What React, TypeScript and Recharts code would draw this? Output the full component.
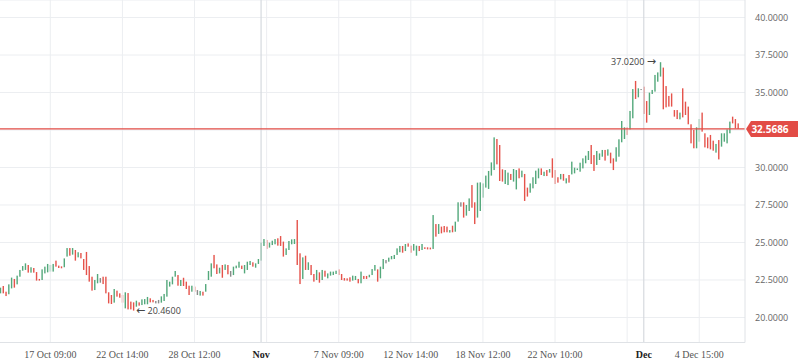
import React from 'react';
import {
  ComposedChart,
  Bar,
  XAxis,
  YAxis,
  CartesianGrid,
  ReferenceLine,
  ReferenceDot,
} from 'recharts';

// ---- data ----
const highs = [
  21.99, 22.10, 21.72, 22.21, 22.66, 22.57, 22.79, 23.17, 23.43, 23.61,
  23.50, 23.35, 23.30, 23.03, 22.57, 23.21, 23.39, 23.57, 23.50, 23.57,
  23.79, 23.46, 23.41, 23.94, 24.63, 24.63, 24.63, 24.50, 24.35, 24.30,
  23.90, 24.37, 23.43, 22.72, 22.50, 22.90, 22.63, 22.72, 22.72, 21.68,
  21.50, 21.90, 21.79, 21.61, 21.50,
  21.68, 21.63, 21.06, 21.01, 21.12, 21.01, 21.21, 21.23, 21.37, 21.28,
  21.17, 21.10, 21.17, 21.41, 21.57, 22.50, 22.39, 22.72, 23.10, 22.83,
  22.50, 22.65, 22.39, 22.12, 22.12, 22.06, 21.83, 21.77, 21.72, 22.23,
  23.10, 23.61, 24.17, 23.54, 23.32, 23.50, 23.54, 23.50, 23.10, 23.39,
  23.46, 23.72, 23.46, 23.50, 23.72, 23.77,
  23.68, 23.61, 23.90, 24.99, 25.23, 25.17, 24.99, 25.12, 25.23, 25.28,
  25.43, 25.06, 24.61, 25.10, 25.21, 25.23, 26.50, 24.28, 24.01, 24.12,
  23.68, 23.50, 22.90, 23.17, 23.01, 23.17, 23.12, 22.94, 23.06, 23.06,
  23.12, 23.21, 22.90, 22.63, 22.61, 22.68, 22.79, 22.77, 22.57, 23.06,
  22.77, 22.77, 22.85, 23.23, 23.50,
  23.21, 23.39, 23.90, 23.83, 23.99, 24.10, 24.17, 24.61, 24.77, 24.77,
  24.90, 24.94, 24.79, 24.90, 24.79, 24.77, 24.90, 24.68, 24.68, 24.66,
  26.83, 26.23, 26.23, 26.06, 26.10, 26.06, 25.83, 26.12, 26.39, 27.68,
  27.68, 27.68, 27.50, 27.94, 28.83, 27.68, 28.99, 29.01, 28.94, 29.46,
  29.77, 30.34, 32.01, 31.90, 31.50,
  29.88, 29.83, 29.66, 29.57, 29.90, 29.83, 29.94, 29.79, 29.57, 28.66,
  28.94, 29.35, 29.79, 29.94, 29.94, 29.72, 29.83, 29.90, 30.61, 29.83,
  29.35, 29.57, 29.57, 29.28, 29.50, 30.39, 29.99, 29.94, 30.32, 30.61,
  30.79, 31.10, 31.50, 30.83, 31.10, 30.94, 31.17, 31.17, 31.21, 30.99,
  30.61, 31.35, 31.88, 33.10, 32.68,
  32.68, 33.77, 35.23, 35.77, 35.28, 35.23, 35.39, 34.43, 34.99, 35.17,
  36.17, 36.34, 37.02, 36.66, 35.43, 34.77, 34.94, 33.83, 33.83, 33.66,
  35.28, 34.39, 34.06, 32.88, 32.50, 32.68, 33.23, 33.66, 32.28, 32.01,
  32.17, 31.79, 31.57, 31.83, 32.28, 32.28, 32.54, 33.06, 33.39, 33.23,
  32.94,
];

const lows = [
  21.61, 21.61, 21.43, 21.55, 21.94, 21.99, 22.21, 22.72, 23.12, 23.17,
  22.99, 22.99, 22.99, 22.46, 22.46, 22.50, 22.94, 23.01, 23.06, 23.06,
  23.39, 23.30, 23.28, 23.35, 24.06, 24.12, 24.19, 23.79, 24.01, 23.94,
  23.17, 22.83, 22.39, 21.79, 21.83, 22.28, 22.32, 22.23, 21.61, 20.94,
  20.90, 20.99, 21.39, 21.32, 20.99,
  20.61, 20.54, 20.54, 20.46, 20.72, 20.79, 20.83, 20.88, 20.88, 21.01,
  21.01, 20.94, 20.94, 20.99, 21.10, 21.39, 22.06, 22.21, 22.72, 22.12,
  22.10, 22.10, 21.90, 21.50, 21.72, 21.72, 21.50, 21.46, 21.46, 21.72,
  22.50, 22.72, 23.28, 22.90, 22.94, 22.65, 23.17, 22.88, 22.72, 22.83,
  23.28, 23.32, 23.23, 22.94, 23.17, 23.50,
  23.39, 23.32, 23.57, 23.79, 24.77, 24.57, 24.66, 24.83, 24.88, 24.79,
  24.77, 24.06, 24.17, 24.50, 24.88, 24.90, 23.50, 22.23, 22.57, 23.17,
  23.17, 22.83, 22.39, 22.50, 22.32, 22.50, 22.72, 22.61, 22.79, 22.83,
  22.90, 22.83, 22.50, 22.46, 22.46, 22.39, 22.46, 22.50, 22.28, 22.28,
  22.57, 22.57, 22.68, 22.83, 23.12,
  22.39, 22.61, 23.23, 23.61, 23.72, 23.88, 23.90, 24.17, 24.35, 24.32,
  24.43, 24.72, 24.32, 24.46, 24.12, 24.43, 24.50, 24.57, 24.54, 24.54,
  24.57, 25.39, 25.57, 25.61, 25.68, 25.68, 25.66, 25.68, 25.72, 26.39,
  27.39, 26.66, 26.79, 27.10, 27.32, 26.23, 26.66, 27.10, 27.99, 28.66,
  28.57, 29.46, 29.83, 30.21, 29.10,
  29.06, 28.90, 28.83, 29.17, 29.06, 28.54, 29.28, 29.35, 27.77, 28.06,
  28.32, 28.61, 28.90, 29.28, 29.50, 29.43, 29.43, 29.66, 29.32, 28.90,
  28.99, 29.21, 29.12, 28.94, 28.99, 29.54, 29.61, 29.83, 29.72, 29.94,
  30.28, 30.50, 30.23, 29.77, 30.17, 30.50, 30.72, 30.46, 30.79, 30.28,
  29.83, 30.39, 30.72, 31.68, 31.90,
  32.17, 32.54, 33.28, 34.57, 34.68, 35.17, 33.57, 32.99, 33.50, 34.90,
  35.06, 35.72, 36.06, 33.88, 34.01, 34.06, 34.06, 33.39, 33.23, 33.21,
  33.34, 33.50, 32.88, 31.61, 31.28, 31.28, 31.72, 32.39, 31.34, 31.28,
  31.21, 31.12, 30.99, 30.54, 31.39, 31.72, 31.61, 32.28, 32.94, 32.61,
  32.57,
];

// u = up candle, d = down candle, n = unchanged
const directions = (
  'udduuduuuu' + 'duddduuuuu' + 'ddduududud' + 'dddduunddd' + 'duddd' +
  'uddduduuud' + 'dnnuuuuuud' + 'udddudnudu' + 'uuddududnu' + 'uuduuu' +
  'duuuuduuud' + 'dduuuuddud' + 'uddududuuu' + 'uddddduudu' + 'dduuu' +
  'duunuuuuud' + 'udduududdd' + 'ududdduduu' + 'nduudduuuu' + 'uuudd' +
  'duuduududd' + 'uuuudududd' + 'dududuuuuu' + 'uudduuudud' + 'duuuu' +
  'duudundduu' + 'uuuddddddu' + 'ddddduuddd' + 'dduduuuudd' + 'd'
).split('');

const trailingEmptySlots = 2;

const xTickIndex = [18, 44, 70, 94, 122, 148, 174, 200, 232, 252];
const xTickLabels = [
  '17 Oct 09:00',
  '22 Oct 14:00',
  '28 Oct 12:00',
  'Nov',
  '7 Nov 09:00',
  '12 Nov 14:00',
  '18 Nov 12:00',
  '22 Nov 10:00',
  'Dec',
  '4 Dec 15:00',
];
const monthLabels = ['Nov', 'Dec'];
const gridIndex = [18, 44, 70, 96, 122, 148, 174, 200, 226, 252];
const monthLineIndex = [94, 232];

const yTicks = [20, 22.5, 25, 27.5, 30, 32.5, 35, 37.5, 40];
const yDomain: [number, number] = [18.3333, 41.1667];

const lastPrice = 32.5686;
const highMark = { index: 238, value: 37.02 };
const lowMark = { index: 48, value: 20.46 };

// ---- styles ----
const UP = '#53a87b';
const DOWN = '#e5534b';
const FLAT = '#8a8a8a';
const GRID = '#eceef1';
const MONTH_GRID = '#d6dadf';
const AXIS = '#dfe2e6';
const PRICE = '#e24c46';

const data = Array.from({ length: highs.length + trailingEmptySlots }, (_, i) => ({
  i,
  range: i < highs.length ? [lows[i], highs[i]] : null,
  dir: directions[i] ?? 'n',
}));

const Candle = (props: any) => {
  const { x, y, width, height, payload } = props;
  if (!payload || !payload.range || x == null || y == null) return <g />;
  const top = Math.min(y, y + height);
  const h = Math.max(Math.abs(height), 1);
  const cx = x + width / 2;
  const color = payload.dir === 'u' ? UP : payload.dir === 'd' ? DOWN : FLAT;
  return <rect x={cx - 0.7} y={top} width={1.4} height={h} fill={color} />;
};

const XTick = (props: any) => {
  const { x, y, payload } = props;
  const k = xTickIndex.indexOf(Number(payload.value));
  const label = k >= 0 ? xTickLabels[k] : '';
  const isMonth = monthLabels.includes(label);
  return (
    <text
      x={x}
      y={y}
      dy={7.5}
      textAnchor="middle"
      fontFamily="'Liberation Serif', 'Times New Roman', serif"
      fontSize={10}
      fontWeight={isMonth ? 'bold' : 'normal'}
      fill={isMonth ? '#222' : '#555'}
    >
      {label}
    </text>
  );
};

// y tick labels; the one hidden under the last-price tag is not drawn
const YTick = (props: any) => {
  const { x, y, payload } = props;
  const v = Number(payload.value);
  if (Math.abs(v - lastPrice) < 0.6) return <g />;
  return (
    <text
      x={x}
      y={y}
      dy="0.355em"
      textAnchor="start"
      fontFamily="'Open Sans', sans-serif"
      fontSize={9}
      fill="#666"
    >
      {v.toFixed(4)}
    </text>
  );
};

const PriceTag = (props: any) => {
  const vb = props.viewBox || {};
  const right = (vb.x ?? 0) + (vb.width ?? 0);
  const cy = vb.y ?? 0;
  return (
    <g>
      <path
        d={`M${right + 1},${cy} L${right + 6},${cy - 8} H798 V${cy + 8} H${right + 6} Z`}
        fill={PRICE}
      />
      <text
        x={right + 25}
        y={cy}
        dy="0.36em"
        textAnchor="middle"
        fontFamily="'Open Sans', sans-serif"
        fontSize={10}
        fontWeight="bold"
        fill="#fff"
      >
        {lastPrice.toFixed(4)}
      </text>
    </g>
  );
};

const HighLabel = (props: any) => {
  const vb = props.viewBox || {};
  const cx = (vb.x ?? 0) + (vb.width ?? 0) / 2;
  const cy = (vb.y ?? 0) + (vb.height ?? 0) / 2;
  return (
    <text
      x={cx - 4.5}
      y={cy}
      dy="0.35em"
      textAnchor="end"
      fontFamily="'Open Sans', sans-serif"
      fontSize={9}
      fill="#444"
    >
      {`${highMark.value.toFixed(4)} `}
      <tspan fontFamily="'DejaVu Sans', sans-serif" fontSize={11}>{'\u2192'}</tspan>
    </text>
  );
};

const LowLabel = (props: any) => {
  const vb = props.viewBox || {};
  const cx = (vb.x ?? 0) + (vb.width ?? 0) / 2;
  const cy = (vb.y ?? 0) + (vb.height ?? 0) / 2;
  return (
    <text
      x={cx + 2.5}
      y={cy}
      dy="0.35em"
      textAnchor="start"
      fontFamily="'Open Sans', sans-serif"
      fontSize={9}
      fill="#444"
    >
      <tspan fontFamily="'DejaVu Sans', sans-serif" fontSize={11}>{'\u2190'}</tspan>
      {` ${lowMark.value.toFixed(4)}`}
    </text>
  );
};

export default function App() {
  return (
    <div
      style={{
        position: 'absolute',
        left: 0,
        top: 0,
        width: 798,
        height: 363,
        background: '#fff',
      }}
    >
      <ComposedChart
        width={798}
        height={363}
        data={data}
        margin={{ top: 0, right: 0, bottom: 0, left: -1 }}
        barCategoryGap={0}
      >
        <CartesianGrid vertical={false} stroke={GRID} />
        {gridIndex.map((g) => (
          <ReferenceLine key={`g${g}`} x={g} stroke={GRID} strokeWidth={1} />
        ))}
        {monthLineIndex.map((g) => (
          <ReferenceLine key={`m${g}`} x={g} stroke={MONTH_GRID} strokeWidth={1.2} />
        ))}
        <XAxis
          dataKey="i"
          type="category"
          ticks={xTickIndex}
          interval={0}
          tick={<XTick />}
          tickLine={false}
          axisLine={{ stroke: AXIS }}
          height={20.5}
        />
        <YAxis
          orientation="right"
          type="number"
          width={53}
          domain={yDomain}
          allowDataOverflow
          ticks={yTicks}
          interval={0}
          tick={<YTick />}
          tickLine={false}
          tickMargin={4}
          axisLine={{ stroke: AXIS }}
        />
        <Bar dataKey="range" isAnimationActive={false} shape={(p: any) => <Candle {...p} />} />
        <ReferenceLine
          y={lastPrice}
          stroke={PRICE}
          strokeWidth={1.3}
          label={(p: any) => <PriceTag {...p} />}
        />
        <ReferenceDot
          x={highMark.index}
          y={highMark.value}
          r={1}
          fill="none"
          stroke="none"
          label={(p: any) => <HighLabel {...p} />}
        />
        <ReferenceDot
          x={lowMark.index}
          y={lowMark.value}
          r={1}
          fill="none"
          stroke="none"
          label={(p: any) => <LowLabel {...p} />}
        />
      </ComposedChart>
    </div>
  );
}
